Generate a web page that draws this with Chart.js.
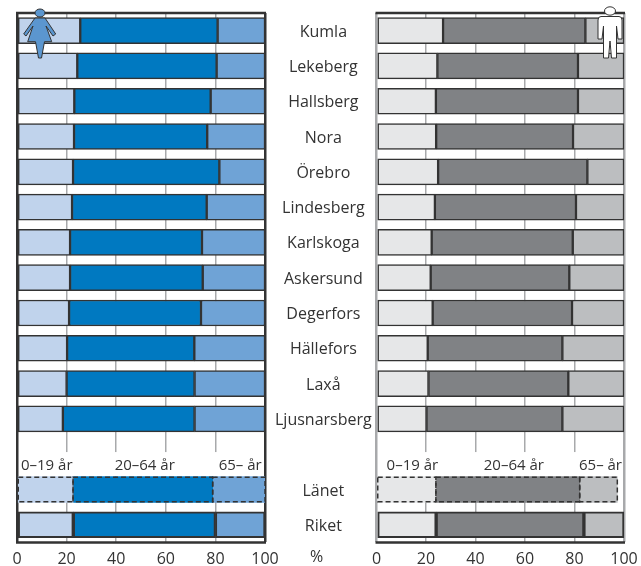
<!DOCTYPE html>
<html><head><meta charset="utf-8">
<style>
html,body{margin:0;padding:0;background:#fff;width:641px;height:566px;overflow:hidden}
canvas{position:absolute;top:0;left:0}
svg{position:absolute;left:0;top:0}
</style>
<script src="https://cdn.jsdelivr.net/npm/chart.js@4"></script>
</head><body>
<canvas id="cl" width="641" height="566"></canvas>
<canvas id="cr" width="641" height="566"></canvas>
<svg width="641" height="566">
<g fill="#5b96cf" stroke="#333" stroke-width="1" stroke-linejoin="round">
<ellipse cx="40" cy="13" rx="5" ry="4"/>
<path d="M35 18L45 18L55.700 34L53 36L46 26L51.700 41.700L44.500 41.700L41.500 58L38.500 58L35.500 41.700L27.700 41.700L33 26L26 36L23.700 34Z"/>
</g>
<g fill="#fff" stroke="#333" stroke-width="1" stroke-linejoin="round">
<ellipse cx="610" cy="11" rx="5.500" ry="4.200"/>
<path d="M601 16.500H619Q622 16.500 622 20V39H618L616.500 26V58H611.500L610 41L608.500 58H603.500V26L602 39H598V20Q598 16.500 601 16.500Z"/>
</g>
</svg>
<script>
const categories=["Kumla","Lekeberg","Hallsberg","Nora","Örebro","Lindesberg","Karlskoga","Askersund","Degerfors","Hällefors","Laxå","Ljusnarsberg","","Länet","Riket"];
const tickValues=[0,20,40,60,80,100];
const ageLabels=["0–19 år","20–64 år","65– år"];
const womenYoung=[25.5,24.3,23.1,23,22.6,22.2,21.4,21.4,21,20.2,20,18.500,null,22.6,22.7];
const womenWork=[55.4,56.2,55,53.7,59,54.3,53.2,53.500,53.2,51.3,51.6,53.1,null,56.3,57.3];
const womenOld=[19.1,19.5,21.9,23.3,18.4,23.500,25.4,25.1,25.8,28.500,28.4,28.4,null,21.1,20];
const menYoung=[26.9,24.6,24,24.1,24.9,23.6,22.3,21.9,22.7,20.7,21,20.2,null,24,24.1];
const menWork=[57.500,56.8,57.4,55.3,60.3,57,57,56,56.3,54.4,56.500,54.9,null,58.1,59.7];
const menOld=[15.6,18.6,18.6,20.6,14.8,19.4,20.7,22.1,21,24.9,22.500,24.9,null,15.2,16.2];
const ageLabelPosL=[12,51.500,90];
const ageLabelPosR=[14.500,55.500,90.500];
const dashedRow=13;
const font='"Open Sans"';
function makeChart(id,vals,colors,pad,showLabels,labelXs,edge){
  return new Chart(document.getElementById(id),{
    type:'bar',
    data:{labels:categories,datasets:vals.map((v,i)=>({data:v,backgroundColor:colors[i],stack:'s',
      borderColor:'#333',borderWidth:c=>c.dataIndex===dashedRow?0:(c.dataIndex===14?2:1.500),
      barThickness:26,borderSkipped:false}))},
    options:{indexAxis:'y',responsive:false,animation:false,
      layout:{padding:pad},
      plugins:{legend:{display:false},tooltip:{enabled:false}},
      scales:{
        x:{type:'linear',stacked:true,min:0,max:100,position:'bottom',
          afterBuildTicks:a=>{a.ticks=tickValues.map(value=>({value}))},
          afterFit:a=>{a.height=23.600;a.paddingLeft=0;a.paddingRight=0},
          grid:{color:c=>(c.tick.value===0||c.tick.value===100)?edge:'#a8a9ab',lineWidth:c=>(c.tick.value===0||c.tick.value===100)?2.500:1.500,drawTicks:false},
          border:{display:false},
          ticks:{color:'#333',font:{family:font,size:16},padding:7,maxRotation:0,autoSkip:false}},
        y:{stacked:true,position:'right',display:showLabels,
          afterFit:a=>{a.width=showLabels?110:0;a.paddingTop=0;a.paddingBottom=0},
          grid:{display:false,drawTicks:false},border:{display:false},
          ticks:{color:'#333',font:{family:font,size:16},crossAlign:'center',padding:10,autoSkip:false,labelOffset:1.500}}
      }
    },
    plugins:[{id:'extras',
      afterDatasetsDraw(ch){
        const g=ch.ctx,a=ch.chartArea,xs=ch.scales.x,ys=ch.scales.y;
        const rowH=ys.getPixelForValue(13)-ys.getPixelForValue(12);
        g.save();
        g.fillStyle='#fff';
        g.fillRect(a.left+2,ys.getPixelForValue(12)-rowH*0.06,a.right-a.left-4,rowH*0.68);
        g.strokeStyle='#333';g.lineWidth=2.500;
        g.beginPath();g.moveTo(a.left-1,a.top);g.lineTo(a.right+1,a.top);g.moveTo(a.left-1,a.bottom);g.lineTo(a.right+1,a.bottom);g.stroke();
        g.lineWidth=1.500;g.setLineDash([5,3]);
        vals.forEach((_,i)=>{const r=ch.getDatasetMeta(i).data[dashedRow].getProps(['x','base','y','height']);
          g.strokeRect(r.base,r.y-r.height/2+.75,r.x-r.base,r.height-1.500);});
        g.setLineDash([]);
        g.fillStyle='#333';g.font='15px '+font;g.textAlign='center';g.textBaseline='middle';
        const y=ys.getPixelForValue(12)+rowH*0.32;
        ageLabels.forEach((t,i)=>g.fillText(t,xs.getPixelForValue(labelXs[i]),y));
        if(showLabels){g.font='16px '+font;g.textAlign='left';g.fillText('%',310,a.bottom+15.500);}
        g.restore();
      }}]
  });
}
makeChart('cl',[womenYoung,womenWork,womenOld],['#c0d3ec','#0079c1','#6fa3d6'],{left:17,right:266,top:13,bottom:0},true,ageLabelPosL,'#333');
makeChart('cr',[menYoung,menWork,menOld],['#e6e7e8','#808285','#bcbec0'],{left:376.500,right:17,top:13,bottom:0},false,ageLabelPosR,'#a8a9ab');
</script>
</body></html>
